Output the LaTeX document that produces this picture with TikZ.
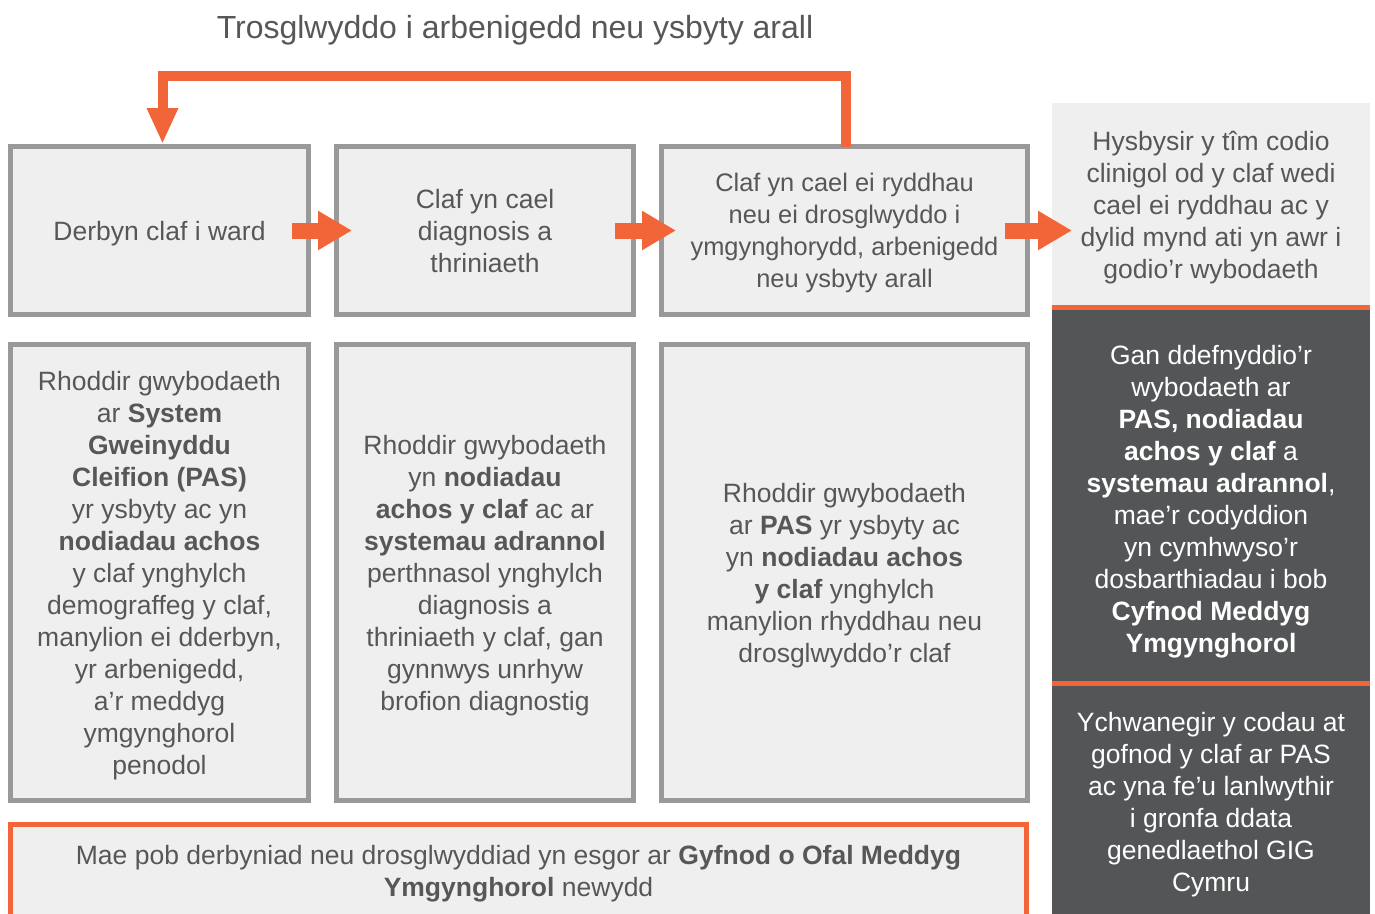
\documentclass[tikz,border=0pt]{standalone}
\usepackage{fontspec}
\setmainfont{Liberation Sans}
\usepackage{xcolor}
\usetikzlibrary{arrows.meta,positioning}
\definecolor{flowgrey}{RGB}{153, 153, 153}
\definecolor{boxfill}{RGB}{239, 239, 239}
\definecolor{darkslate}{RGB}{84, 85, 87}
\definecolor{accent}{RGB}{242, 101, 57}
\definecolor{textgrey}{RGB}{87, 87, 87}

\begin{document}
\begin{tikzpicture}[x=1pt, y=-1pt,
    every node/.style={inner sep=0pt, outer sep=0pt, align=center, text depth=0pt,
        font=\fontsize{26.5}{32}\selectfont},
    stagebox/.style={draw=flowgrey, line width=5pt, fill=boxfill, text=textgrey},
    codingbox/.style={minimum width=318pt, text=white, fill=darkslate},
    flowarrow/.style={accent, line width=16pt, -{Triangle[length=34pt,width=37pt]}},
    looparrow/.style={accent, line width=10pt, -{Triangle[length=36pt,width=29pt]}},
    sepline/.style={accent, line width=5pt}]
    \useasboundingbox (0,0) rectangle (1375,913);

    % Title of the loop
    \node[text=textgrey, font=\fontsize{32}{38}\selectfont] (title) at (515,27)
        {Trosglwyddo i arbenigedd neu ysbyty arall};

    % First row: stages
    \node[stagebox, minimum width=298pt, minimum height=168pt] (admit) at (159.5,230.5)
        {Derbyn claf i ward};
    \node[stagebox, minimum width=297pt, minimum height=168pt] (treat) at (485,230.5)
        {Claf yn cael\\diagnosis a\\thriniaeth};
    \node[stagebox, minimum width=366pt, minimum height=168pt, font=\fontsize{25.4}{32}\selectfont] (discharge) at (844.5,230.5)
        {Claf yn cael ei ryddhau\\neu ei drosglwyddo i\\ymgynghorydd, arbenigedd\\neu ysbyty arall};

    % Second row: information recorded
    \node[stagebox, minimum width=298pt, minimum height=456pt] (admitinfo) at (159.5,572.5)
        {Rhoddir gwybodaeth\\ar \textbf{System}\\\textbf{Gweinyddu}\\\textbf{Cleifion (PAS)}\\yr ysbyty ac yn\\\textbf{nodiadau achos}\\y claf ynghylch\\demograffeg y claf,\\manylion ei dderbyn,\\yr arbenigedd,\\a’r meddyg\\ymgynghorol\\penodol};
    \node[stagebox, minimum width=297pt, minimum height=456pt] (treatinfo) at (485,572.5)
        {Rhoddir gwybodaeth\\yn \textbf{nodiadau}\\\textbf{achos y claf} ac ar\\\textbf{systemau adrannol}\\perthnasol ynghylch\\diagnosis a\\thriniaeth y claf, gan\\gynnwys unrhyw\\brofion diagnostig};
    \node[stagebox, minimum width=366pt, minimum height=456pt] (dischargeinfo) at (844.5,572.5)
        {Rhoddir gwybodaeth\\ar \textbf{PAS} yr ysbyty ac\\yn \textbf{nodiadau achos}\\\textbf{y claf} ynghylch\\manylion rhyddhau neu\\drosglwyddo’r claf};

    % Bottom note
    \node[stagebox, draw=accent, minimum width=1016pt, minimum height=93pt] (episode) at (518.5,871)
        {Mae pob derbyniad neu drosglwyddiad yn esgor ar \textbf{Gyfnod o Ofal Meddyg}\\\textbf{Ymgynghorol} newydd};

    % Right column: clinical coding
    \node[codingbox, fill=boxfill, text=textgrey, minimum height=204.5pt] (notify) at (1211,205.25)
        {Hysbysir y tîm codio\\clinigol od y claf wedi\\cael ei ryddhau ac y\\dylid mynd ati yn awr i\\godio’r wybodaeth};
    \node[codingbox, minimum height=383pt] (classify) at (1211,499)
        {Gan ddefnyddio’r\\wybodaeth ar\\\textbf{PAS, nodiadau}\\\textbf{achos y claf} a\\\textbf{systemau adrannol},\\mae’r codyddion\\yn cymhwyso’r\\dosbarthiadau i bob\\\textbf{Cyfnod Meddyg}\\\textbf{Ymgynghorol}};
    \node[codingbox, minimum height=236.5pt] (upload) at (1211,801.75)
        {Ychwanegir y codau at\\gofnod y claf ar PAS\\ac yna fe’u lanlwythir\\i gronfa ddata\\genedlaethol GIG\\Cymru};
    \draw[sepline] (notify.south west) -- (notify.south east);
    \draw[sepline] (upload.north west) -- (upload.north east);

    % Connecting arrows
    \draw[flowarrow] ([xshift=-16.5pt]admit.east) -- ([xshift=15.5pt]treat.west);
    \draw[flowarrow] ([xshift=-18.5pt]treat.east) -- ([xshift=14.5pt]discharge.west);
    \draw[flowarrow] ([xshift=-22.5pt]discharge.east) -- ([xshift=20pt]notify.west |- discharge.east);
    \draw[looparrow] ([xshift=1pt]discharge.north) -- ++(0,-71) -| ([xshift=3pt,yshift=2.5pt]admit.north);
\end{tikzpicture}
\end{document}
